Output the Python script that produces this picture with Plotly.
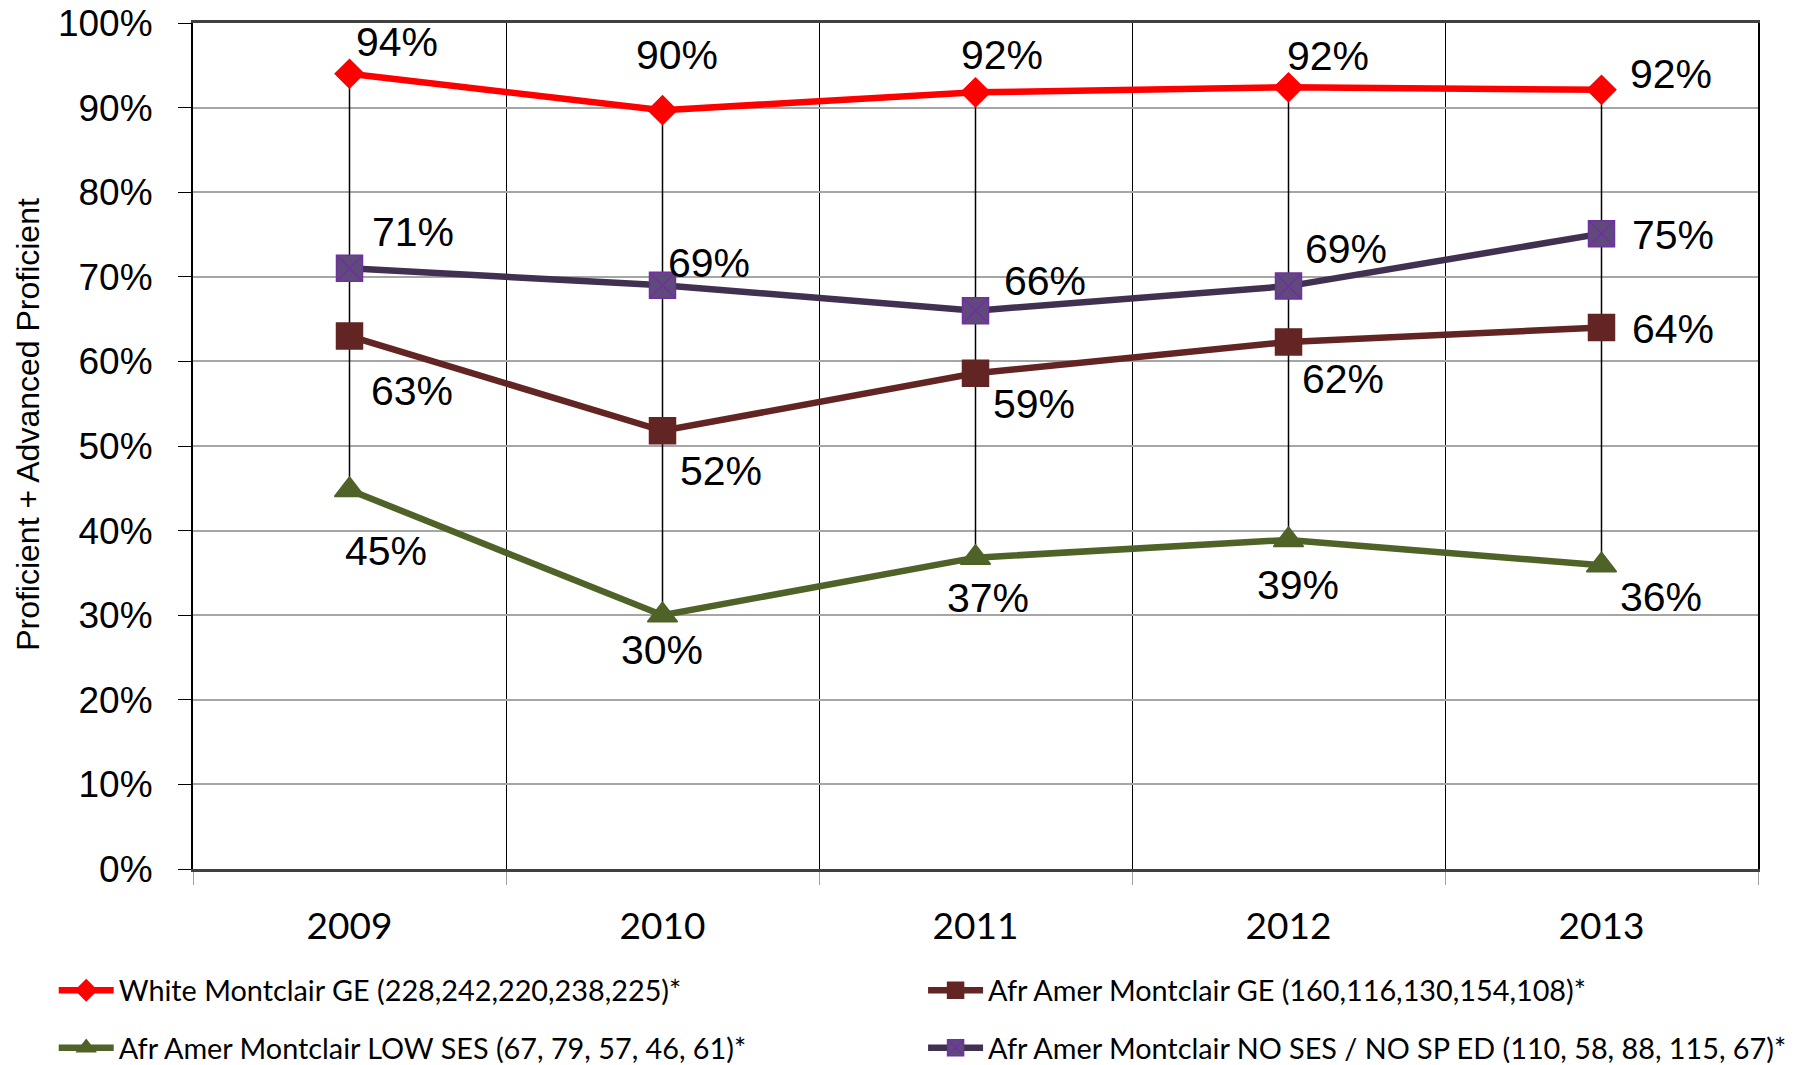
import plotly.graph_objects as go

# ── Données ───────────────────────────────────────────────────────────────────
YEARS = ["2009", "2010", "2011", "2012", "2013"]

WHITE_GE = [0.940, 0.897, 0.918, 0.924, 0.921]
AFR_GE = [0.630, 0.518, 0.586, 0.623, 0.640]
AFR_LOW_SES = [0.448, 0.300, 0.368, 0.389, 0.359]
AFR_NO_SES = [0.710, 0.690, 0.660, 0.689, 0.751]

NAMES = [
    "White Montclair GE (228,242,220,238,225)*",
    "Afr Amer Montclair GE (160,116,130,154,108)*",
    "Afr Amer Montclair LOW SES (67, 79, 57, 46, 61)*",
    "Afr Amer Montclair NO SES / NO SP ED (110, 58, 88, 115, 67)*",
]
Y_TITLE = "Proficient + Advanced Proficient"

# décalages des étiquettes (px) par série
OFFSETS = {
    0: [(47, 32), (14, 55), (26, 37), (39, 31), (69, 16)],
    1: [(62, -55), (58, -40), (58, -31), (54, -37), (71, -1)],
    2: [(36, -61), (-1, -35), (12, -40), (9, -45), (59, -32)],
    3: [(63, 36), (46, 22), (69, 30), (57, 37), (71, -1)],
}

ARIAL = "Liberation Sans, Arial, sans-serif"
CALIBRI = "Lato, Carlito, Calibri, sans-serif"

series = [
    dict(y=WHITE_GE, color="#FF0000", mcolor="#FF0000", mline="#FF0000",
         symbol="diamond", size=22, legend="legend", group="a"),
    dict(y=AFR_GE, color="#632523", mcolor="#632523", mline="#632523",
         symbol="square", size=26, legend="legend2", group="b"),
    dict(y=AFR_LOW_SES, color="#4F6228", mcolor="#4F6228", mline="#4F6228",
         symbol="triangle-up", size=26, legend="legend", group="c"),
    dict(y=AFR_NO_SES, color="#403151", mcolor="#604A7B", mline="#7030A0",
         symbol="square-x", size=26, legend="legend2", group="d"),
]

fig = go.Figure()

# lignes haut-bas (max -> min par année)
hl_x, hl_y = [], []
for i, yr in enumerate(YEARS):
    vals = [s["y"][i] for s in series]
    hl_x += [yr, yr, None]
    hl_y += [max(vals), min(vals), None]
fig.add_trace(go.Scatter(x=hl_x, y=hl_y, mode="lines", showlegend=False,
                         line=dict(color="black", width=1.5), hoverinfo="skip"))

for k, s in enumerate(series):
    fig.add_trace(go.Scatter(
        x=YEARS, y=s["y"], mode="lines+markers", name=NAMES[k],
        line=dict(color=s["color"], width=6.5),
        marker=dict(symbol=s["symbol"], size=s["size"], color=s["mcolor"],
                    line=dict(color=s["mline"], width=1.5)),
        legend=s["legend"], legendgroup=s["group"],
    ))
    for i, v in enumerate(s["y"]):
        dx, dy = OFFSETS[k][i]
        # x = index de catégorie (sinon "2009" est lu comme l'index 2009)
        fig.add_annotation(x=i, y=v, text=f"{v:.0%}", showarrow=False,
                           xshift=dx, yshift=dy,
                           font=dict(family=ARIAL, size=41, color="black"))

# titre de l'axe Y (annotation pour le placer un peu au-dessus du centre)
fig.add_annotation(text=Y_TITLE, textangle=-90, showarrow=False,
                   xref="paper", yref="paper", x=0, y=0.525, xshift=-165,
                   xanchor="center", yanchor="middle",
                   font=dict(family=ARIAL, size=32, color="black"))

legend_common = dict(
    orientation="v", font=dict(family=CALIBRI, size=28.8, color="black"),
    bgcolor="rgba(0,0,0,0)", tracegroupgap=17, xanchor="left", yanchor="top",
    itemwidth=55,
)

# la page décale le graphique de 8 px (marge du body) : on compense
fig.update_layout(
    width=1796, height=1057,
    paper_bgcolor="white", plot_bgcolor="white",
    margin=dict(l=185, r=46, t=15, b=196, autoexpand=False),
    showlegend=True,
    legend=dict(**legend_common, x=-0.089, y=-0.1135),
    legend2=dict(**legend_common, x=0.4665, y=-0.1135),
    xaxis=dict(
        type="category", categoryorder="array", categoryarray=YEARS,
        range=[-0.5, 4.5], autorange=False, automargin=False,
        tickson="boundaries", ticks="outside", ticklen=13,
        tickcolor="#A0A0A0", showgrid=True, gridcolor="black", gridwidth=1,
        showline=True, linecolor="#404040", linewidth=2.5, mirror=True,
        tickfont=dict(family=CALIBRI, size=37, color="black"),
        ticklabelstandoff=23, tickangle=0,
    ),
    yaxis=dict(
        range=[0, 1], dtick=0.1, tickformat=".0%", ticks="outside", ticklen=13,
        tickcolor="black", showgrid=True, gridcolor="#A6A6A6", gridwidth=1.5,
        showline=True, linecolor="black", linewidth=2, mirror=True,
        zeroline=False, automargin=False, ticklabeloverflow="allow",
        tickfont=dict(family=ARIAL, size=37, color="black"),
        ticklabelstandoff=18,
    ),
)

fig.write_html("out.html")
